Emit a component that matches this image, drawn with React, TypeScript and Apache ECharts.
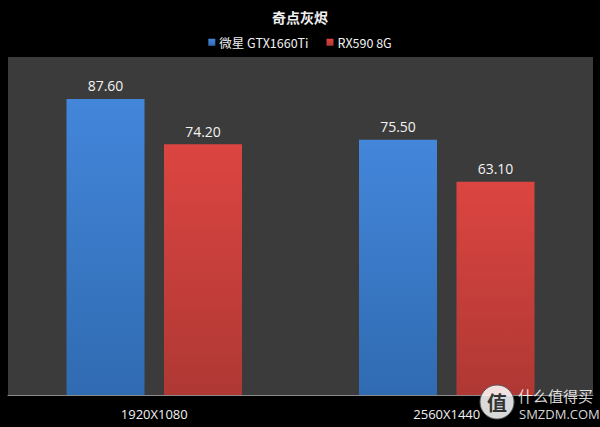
import React, { useEffect, useRef } from "react";
import * as echarts from "echarts";

const categories = ["1920X1080", "2560X1440"];
const seriesNames = ["微星 GTX1660Ti", "RX590 8G"];
const gtx1660ti = [87.6, 75.5];
const rx590 = [74.2, 63.1];
const chartTitle = "奇点灰烬";

const barFill = (top: string, bottom: string) =>
  new echarts.graphic.LinearGradient(0, 0, 0, 1, [
    { offset: 0, color: top },
    { offset: 1, color: bottom },
  ]);

export default function App() {
  const ref = useRef<HTMLDivElement>(null);

  useEffect(() => {
    if (!ref.current) return;
    const chart = echarts.init(ref.current, undefined, { renderer: "svg" });
    const labelStyle = {
      show: true,
      position: "top" as const,
      distance: 6,
      color: "#f2f2f2",
      fontSize: 14,
      fontFamily: "Open Sans, Noto Sans, sans-serif",
      formatter: (p: any) => Number(p.value).toFixed(2),
    };
    chart.setOption({
      animation: false,
      backgroundColor: "#000000",
      title: {
        text: chartTitle,
        left: "center",
        top: 5,
        textStyle: {
          color: "#f0f0f0",
          fontSize: 14,
          fontWeight: "bold",
          fontFamily: "Noto Sans CJK SC, sans-serif",
        },
      },
      legend: {
        top: 31,
        left: "center",
        itemWidth: 7,
        itemHeight: 7,
        itemGap: 18,
        icon: "rect",
        textStyle: {
          color: "#f0f0f0",
          fontSize: 12.5,
          padding: [0, 0, 0, -1],
          fontFamily: "Noto Sans CJK SC, sans-serif",
        },
        data: seriesNames,
      },
      grid: {
        left: 8,
        right: 7,
        top: 57,
        bottom: 32,
        show: true,
        backgroundColor: "#3b3b3b",
        borderWidth: 0,
      },
      xAxis: {
        type: "category",
        data: categories,
        axisLine: { lineStyle: { color: "#8a8a8a", width: 1 } },
        axisTick: { show: false },
        axisLabel: {
          color: "#f0f0f0",
          fontSize: 13,
          margin: 12,
          fontFamily: "Open Sans, Noto Sans, sans-serif",
        },
      },
      yAxis: {
        type: "value",
        min: 0,
        max: 100,
        show: false,
        splitLine: { show: false },
      },
      series: [
        {
          name: seriesNames[0],
          type: "bar",
          data: gtx1660ti,
          barWidth: 78,
          barGap: "25%",
          itemStyle: {
            color: barFill("#4386da", "#306bb2"),
          },
          label: labelStyle,
        },
        {
          name: seriesNames[1],
          type: "bar",
          data: rx590,
          barWidth: 78,
          itemStyle: {
            color: barFill("#dc4541", "#af3834"),
          },
          label: labelStyle,
        },
      ],
      graphic: [
        {
          type: "circle",
          shape: { cx: 497, cy: 402, r: 17 },
          style: { fill: "rgba(255,255,255,0.85)", stroke: "#555", lineWidth: 1 },
          z: 100,
        },
        {
          type: "text",
          x: 497,
          y: 402,
          style: {
            text: "值",
            fill: "#333",
            fontSize: 20,
            fontWeight: "bold",
            align: "center",
            verticalAlign: "middle",
            fontFamily: "Noto Sans CJK SC, sans-serif",
          },
          z: 101,
        },
        {
          type: "text",
          x: 518,
          y: 395,
          style: {
            text: "什么值得买",
            fill: "rgba(255,255,255,0.85)",
            fontSize: 15,
            align: "left",
            verticalAlign: "middle",
            fontFamily: "Noto Sans CJK SC, sans-serif",
          },
          z: 101,
        },
        {
          type: "text",
          x: 519,
          y: 414,
          style: {
            text: "SMZDM.COM",
            fill: "rgba(255,255,255,0.85)",
            fontSize: 13,
            align: "left",
            verticalAlign: "middle",
            fontFamily: "Open Sans, Noto Sans, sans-serif",
          },
          z: 101,
        },
      ],
    });
    return () => chart.dispose();
  }, []);

  return <div ref={ref} style={{ width: 600, height: 427, position: "fixed", left: 0, top: 0 }} />;
}
